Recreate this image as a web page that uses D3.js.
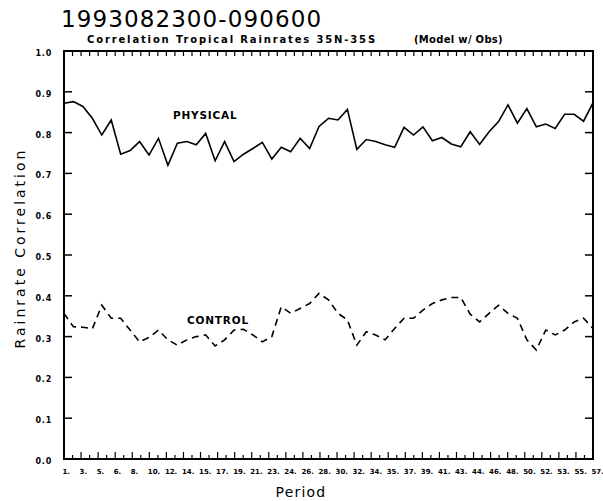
<!DOCTYPE html>
<html>
<head>
  <meta charset="utf-8">
  <title>Correlation Tropical Rainrates</title>
  <script src="https://cdn.jsdelivr.net/npm/d3@7"></script>
  <style>
    body { margin: 0; background: #fff; }
    svg { display: block; background: #fff; }
    text { font-family: "DejaVu Sans", sans-serif; fill: #000; }
  </style>
</head>
<body>
<svg id="chart" width="603" height="501"></svg>

<script>
  // periods 1..57
  var periods = d3.range(1, 58);

  var physical = [
    0.872, 0.876, 0.864, 0.835, 0.794, 0.831, 0.747, 0.756, 0.778, 0.745,
    0.786, 0.720, 0.774, 0.778, 0.770, 0.798, 0.731, 0.778, 0.729, 0.747,
    0.761, 0.776, 0.735, 0.764, 0.753, 0.786, 0.761, 0.815, 0.835, 0.831,
    0.857, 0.759, 0.783, 0.778, 0.770, 0.764, 0.813, 0.794, 0.814, 0.780,
    0.788, 0.772, 0.765, 0.802, 0.771, 0.802, 0.827, 0.868, 0.823, 0.859,
    0.814, 0.821, 0.810, 0.845, 0.845, 0.828, 0.873
  ];

  var control = [
    0.357, 0.324, 0.323, 0.319, 0.377, 0.345, 0.345, 0.316, 0.287, 0.298,
    0.316, 0.292, 0.279, 0.292, 0.300, 0.304, 0.277, 0.292, 0.316, 0.318,
    0.304, 0.287, 0.300, 0.373, 0.357, 0.369, 0.381, 0.406, 0.390, 0.357,
    0.341, 0.279, 0.312, 0.304, 0.292, 0.320, 0.345, 0.345, 0.365, 0.381,
    0.390, 0.396, 0.396, 0.355, 0.336, 0.357, 0.377, 0.357, 0.345, 0.292,
    0.267, 0.316, 0.304, 0.316, 0.336, 0.345, 0.320
  ];

  var xTickLabels = ['1', '3', '5', '6', '8', '10', '12', '14', '15', '17', '19',
    '21', '23', '24', '26', '28', '30', '32', '34', '35', '37', '39', '41', '43',
    '44', '46', '48', '50', '52', '53', '55', '57'];
  var yTicks = d3.range(0, 11).map(function(i) { return i / 10; });

  var svg = d3.select('#chart');
  var pLeft = 64, pRight = 593, pTop = 51, pBottom = 459;

  var x = d3.scaleLinear().domain([1, 57]).range([pLeft, pRight]);
  var y = d3.scaleLinear().domain([0, 1]).range([pBottom, pTop]);

  // label k sits at period 1 + k*56/31, minor ticks halfway between
  var nLab = xTickLabels.length;
  var majorPos = xTickLabels.map(function(d, k) { return x(1 + k * 56 / (nLab - 1)); });
  var minorPos = d3.range(nLab - 1).map(function(k) { return x(1 + (k + 0.5) * 56 / (nLab - 1)); });

  // titles
  svg.append('text')
    .attr('x', 61).attr('y', 27)
    .style('font-size', '23px')
    .style('letter-spacing', '1.1px')
    .text('1993082300-090600');

  svg.append('text')
    .attr('x', 87).attr('y', 43)
    .style('font-size', '10px').style('font-weight', 'bold')
    .style('letter-spacing', '1.85px')
    .text('Correlation Tropical Rainrates 35N-35S');

  svg.append('text')
    .attr('x', 414).attr('y', 43)
    .style('font-size', '10px').style('font-weight', 'bold')
    .style('letter-spacing', '0.3px')
    .text('(Model w/ Obs)');

  // frame
  svg.append('rect')
    .attr('x', pLeft).attr('y', pTop)
    .attr('width', pRight - pLeft).attr('height', pBottom - pTop)
    .attr('fill', 'none').attr('stroke', '#000').attr('stroke-width', 2);

  // y ticks, both sides pointing in
  svg.selectAll('.ytl').data(yTicks).enter().append('line')
    .attr('x1', pLeft).attr('x2', pLeft + 8)
    .attr('y1', function(d) { return y(d); }).attr('y2', function(d) { return y(d); })
    .attr('stroke', '#000').attr('stroke-width', 1.5);
  svg.selectAll('.ytr').data(yTicks).enter().append('line')
    .attr('x1', pRight).attr('x2', pRight - 8)
    .attr('y1', function(d) { return y(d); }).attr('y2', function(d) { return y(d); })
    .attr('stroke', '#000').attr('stroke-width', 1.5);

  svg.selectAll('.ylab').data(yTicks).enter().append('text')
    .attr('x', 52).attr('y', function(d) { return y(d) + 5; })
    .attr('text-anchor', 'end')
    .style('font-size', '8px').style('font-weight', 'bold')
    .style('letter-spacing', '0.8px')
    .text(function(d) { return d.toFixed(1); });

  // bottom ticks: long at labels, short between
  svg.selectAll('.xbM').data(majorPos).enter().append('line')
    .attr('x1', function(d) { return d; }).attr('x2', function(d) { return d; })
    .attr('y1', pBottom).attr('y2', pBottom - 7)
    .attr('stroke', '#000').attr('stroke-width', 1.2);
  svg.selectAll('.xbm').data(minorPos).enter().append('line')
    .attr('x1', function(d) { return d; }).attr('x2', function(d) { return d; })
    .attr('y1', pBottom).attr('y2', pBottom - 4)
    .attr('stroke', '#000').attr('stroke-width', 1.2);

  // top ticks
  svg.selectAll('.xt').data(majorPos.concat(minorPos)).enter().append('line')
    .attr('x1', function(d) { return d; }).attr('x2', function(d) { return d; })
    .attr('y1', pTop).attr('y2', pTop + 5)
    .attr('stroke', '#000').attr('stroke-width', 1.2);

  svg.selectAll('.xlab').data(xTickLabels).enter().append('text')
    .attr('x', function(d, k) { return majorPos[k] - 1.5; })
    .attr('y', 474)
    .style('font-size', '7px').style('font-weight', 'bold')
    .text(function(d) { return d + '.'; });

  // axis titles
  svg.append('text')
    .attr('x', 301).attr('y', 497)
    .attr('text-anchor', 'middle')
    .style('font-size', '14px').style('letter-spacing', '1.2px')
    .text('Period');

  svg.append('text')
    .attr('transform', 'translate(25,248) rotate(-90)')
    .attr('text-anchor', 'middle')
    .style('font-size', '14px').style('letter-spacing', '3px')
    .text('Rainrate Correlation');

  // series
  var line = d3.line()
    .x(function(d, i) { return x(periods[i]); })
    .y(function(d) { return y(d); });

  svg.append('path')
    .datum(physical)
    .attr('d', line)
    .attr('fill', 'none').attr('stroke', '#000').attr('stroke-width', 1.6);

  svg.append('path')
    .datum(control)
    .attr('d', line)
    .attr('fill', 'none').attr('stroke', '#000').attr('stroke-width', 1.6)
    .attr('stroke-dasharray', '7,5');

  svg.append('text')
    .attr('x', 173).attr('y', 119)
    .style('font-size', '10.5px').style('font-weight', 'bold')
    .style('letter-spacing', '0.8px')
    .text('PHYSICAL');

  svg.append('text')
    .attr('x', 187).attr('y', 324)
    .style('font-size', '10.5px').style('font-weight', 'bold')
    .style('letter-spacing', '0.8px')
    .text('CONTROL');
</script>
</body>
</html>
